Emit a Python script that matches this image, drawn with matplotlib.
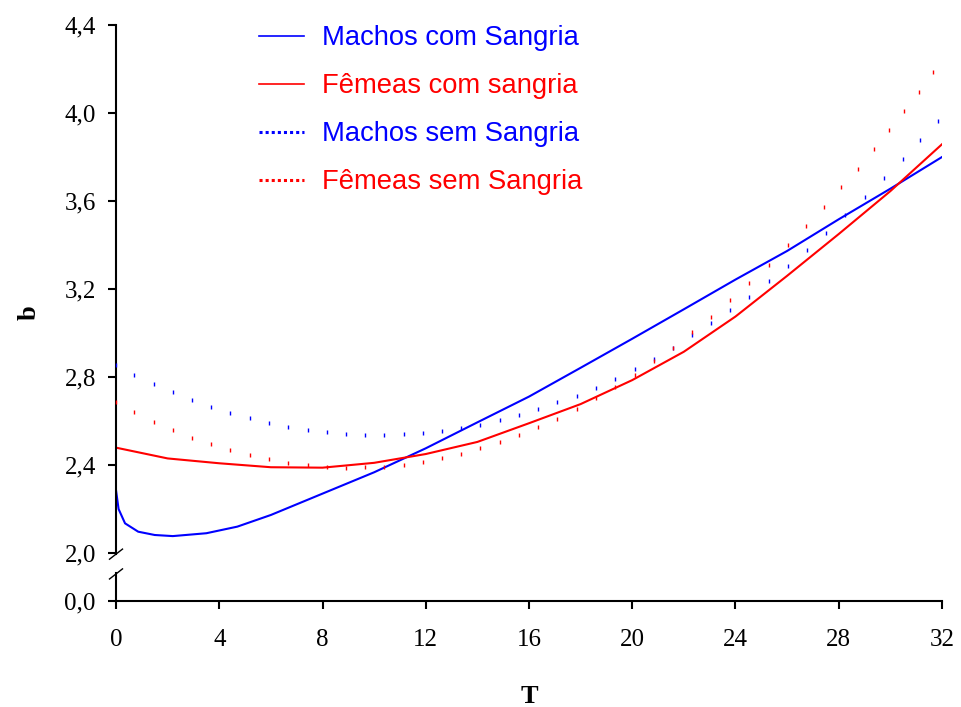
import numpy as np
import matplotlib
matplotlib.use('Agg')
import matplotlib.pyplot as plt
from matplotlib.lines import Line2D

# solid curves (com sangria)
t_machos_com = [0, 0.1, 0.35, 0.86, 1.5, 2.2, 3.5, 4.7, 6, 8, 10, 12, 14, 16, 18, 20, 22, 24, 26, 28, 30, 32]
b_machos_com = [2.286, 2.20, 2.135, 2.097, 2.082, 2.077, 2.09, 2.12, 2.173, 2.27, 2.367, 2.476, 2.594,
                2.711, 2.842, 2.974, 3.108, 3.243, 3.373, 3.517, 3.656, 3.80]

t_femeas_com = [0, 2, 4, 6, 8, 10, 12, 14, 16, 18, 20, 22, 24, 26, 28, 30, 32]
b_femeas_com = [2.479, 2.430, 2.408, 2.390, 2.388, 2.41, 2.45, 2.505, 2.59, 2.677, 2.786, 2.915,
                3.075, 3.26, 3.45, 3.645, 3.858]

# dotted curves (sem sangria), read at the dash positions
t_machos_sem = [0.0, 0.70, 1.47, 2.21, 2.94, 3.68, 4.42, 5.19, 5.93, 6.66, 7.44, 8.16, 8.91, 9.65,
                10.38, 11.15, 11.88, 12.63, 13.37, 14.10, 14.86, 15.61, 16.35, 17.08, 17.85, 18.58,
                19.33, 20.10, 20.83, 21.57, 22.31, 23.05, 23.79, 24.53, 25.31, 26.02, 26.77, 27.52,
                28.25, 29.03, 29.75, 30.48, 31.16, 31.83]
b_machos_sem = [2.855, 2.809, 2.768, 2.732, 2.695, 2.664, 2.636, 2.614, 2.591, 2.573, 2.559, 2.549,
                2.541, 2.538, 2.538, 2.540, 2.545, 2.556, 2.568, 2.583, 2.605, 2.627, 2.653, 2.685,
                2.715, 2.751, 2.791, 2.835, 2.880, 2.932, 2.992, 3.044, 3.105, 3.165, 3.235, 3.305,
                3.376, 3.455, 3.535, 3.618, 3.705, 3.791, 3.879, 3.965]

t_femeas_sem = [0.0, 0.70, 1.47, 2.21, 2.94, 3.68, 4.42, 5.19, 5.93, 6.66, 7.44, 8.16, 8.91, 9.65,
                10.38, 11.15, 11.88, 12.63, 13.37, 14.10, 14.86, 15.61, 16.35, 17.07, 17.85, 18.58,
                19.33, 20.10, 20.83, 21.57, 22.31, 23.05, 23.79, 24.53, 25.31, 26.02, 26.73, 27.43,
                28.10, 28.75, 29.35, 29.95, 30.53, 31.11, 31.66]
b_femeas_sem = [2.686, 2.641, 2.595, 2.559, 2.523, 2.495, 2.468, 2.445, 2.427, 2.409, 2.400, 2.390,
                2.385, 2.390, 2.392, 2.400, 2.414, 2.432, 2.450, 2.476, 2.503, 2.535, 2.571, 2.610,
                2.655, 2.703, 2.756, 2.810, 2.873, 2.933, 3.003, 3.074, 3.150, 3.229, 3.309, 3.399,
                3.486, 3.574, 3.662, 3.747, 3.835, 3.921, 4.009, 4.095, 4.185]

labels = ['Machos com Sangria', 'Fêmeas com sangria', 'Machos sem Sangria', 'Fêmeas sem Sangria']
x_ticks = [0, 4, 8, 12, 16, 20, 24, 28, 32]
y_ticks = [2.0, 2.4, 2.8, 3.2, 3.6, 4.0, 4.4]

blue = '#0000ff'
red = '#ff0000'

y_zero = 1.782  # where "0,0" sits below the axis break

fig = plt.figure(figsize=(9.61, 7.07), dpi=100)
ax = fig.add_axes([116 / 961, 1 - 601 / 707, 826 / 961, 576 / 707])

ax.plot(t_machos_com, b_machos_com, color=blue, lw=1.5)
ax.plot(t_femeas_com, b_femeas_com, color=red, lw=1.5)
ax.plot(t_machos_sem, b_machos_sem, ls='none', marker='|', ms=3, mew=1, color=blue,
        clip_on=False, zorder=5)
ax.plot(t_femeas_sem, b_femeas_sem, ls='none', marker='|', ms=3, mew=1, color=red,
        clip_on=False, zorder=5)

ax.set_xlim(0, 32)
ax.set_ylim(y_zero, 4.4)
ax.set_xticks(x_ticks)
ax.set_xticklabels([str(v) for v in x_ticks])
ax.set_yticks([y_zero] + y_ticks)
ax.set_yticklabels(['0,0'] + [f'{v:.1f}'.replace('.', ',') for v in y_ticks])

serif = 'Liberation Serif'
for lab in ax.get_xticklabels() + ax.get_yticklabels():
    lab.set_fontfamily(serif)
    lab.set_fontsize(18)
ax.tick_params(axis='both', direction='out', length=5.5, width=1.5, color='black')
ax.tick_params(axis='x', pad=15)
ax.tick_params(axis='y', pad=9)

ax.spines['top'].set_visible(False)
ax.spines['right'].set_visible(False)
ax.spines['bottom'].set_linewidth(1.5)
ax.spines['left'].set_linewidth(1.5)
ax.spines['left'].set_bounds(1.995, 4.4)

# lower piece of y axis and break marks
tr = ax.get_yaxis_transform()
ax.plot([0, 0], [y_zero, 1.91], color='black', lw=1.5, transform=tr, clip_on=False)
dx = 6.5 / 826
for yc in [1.995, 1.905]:
    ax.plot([-dx, dx], [yc - 0.023, yc + 0.023], color='black', lw=1.0, transform=tr, clip_on=False)

ax.set_xlabel('T', fontfamily=serif, fontweight='bold', fontsize=19, labelpad=24)
ax.set_ylabel('b', fontfamily=serif, fontweight='bold', fontsize=19, labelpad=17)

handles = [Line2D([], [], color=blue, lw=1.2),
           Line2D([], [], color=red, lw=1.2),
           Line2D([], [], color=blue, lw=2.2, ls=(0, (1, 1))),
           Line2D([], [], color=red, lw=2.2, ls=(0, (1, 1)))]
leg = ax.legend(handles, labels, loc='upper left', bbox_to_anchor=(0.143, 1.042),
                frameon=False, prop={'family': 'Liberation Sans', 'size': 19.7},
                handlelength=1.65, handletextpad=0.65, labelspacing=0.8,
                labelcolor=[blue, red, blue, red])

fig.savefig('out.png', dpi=100)
